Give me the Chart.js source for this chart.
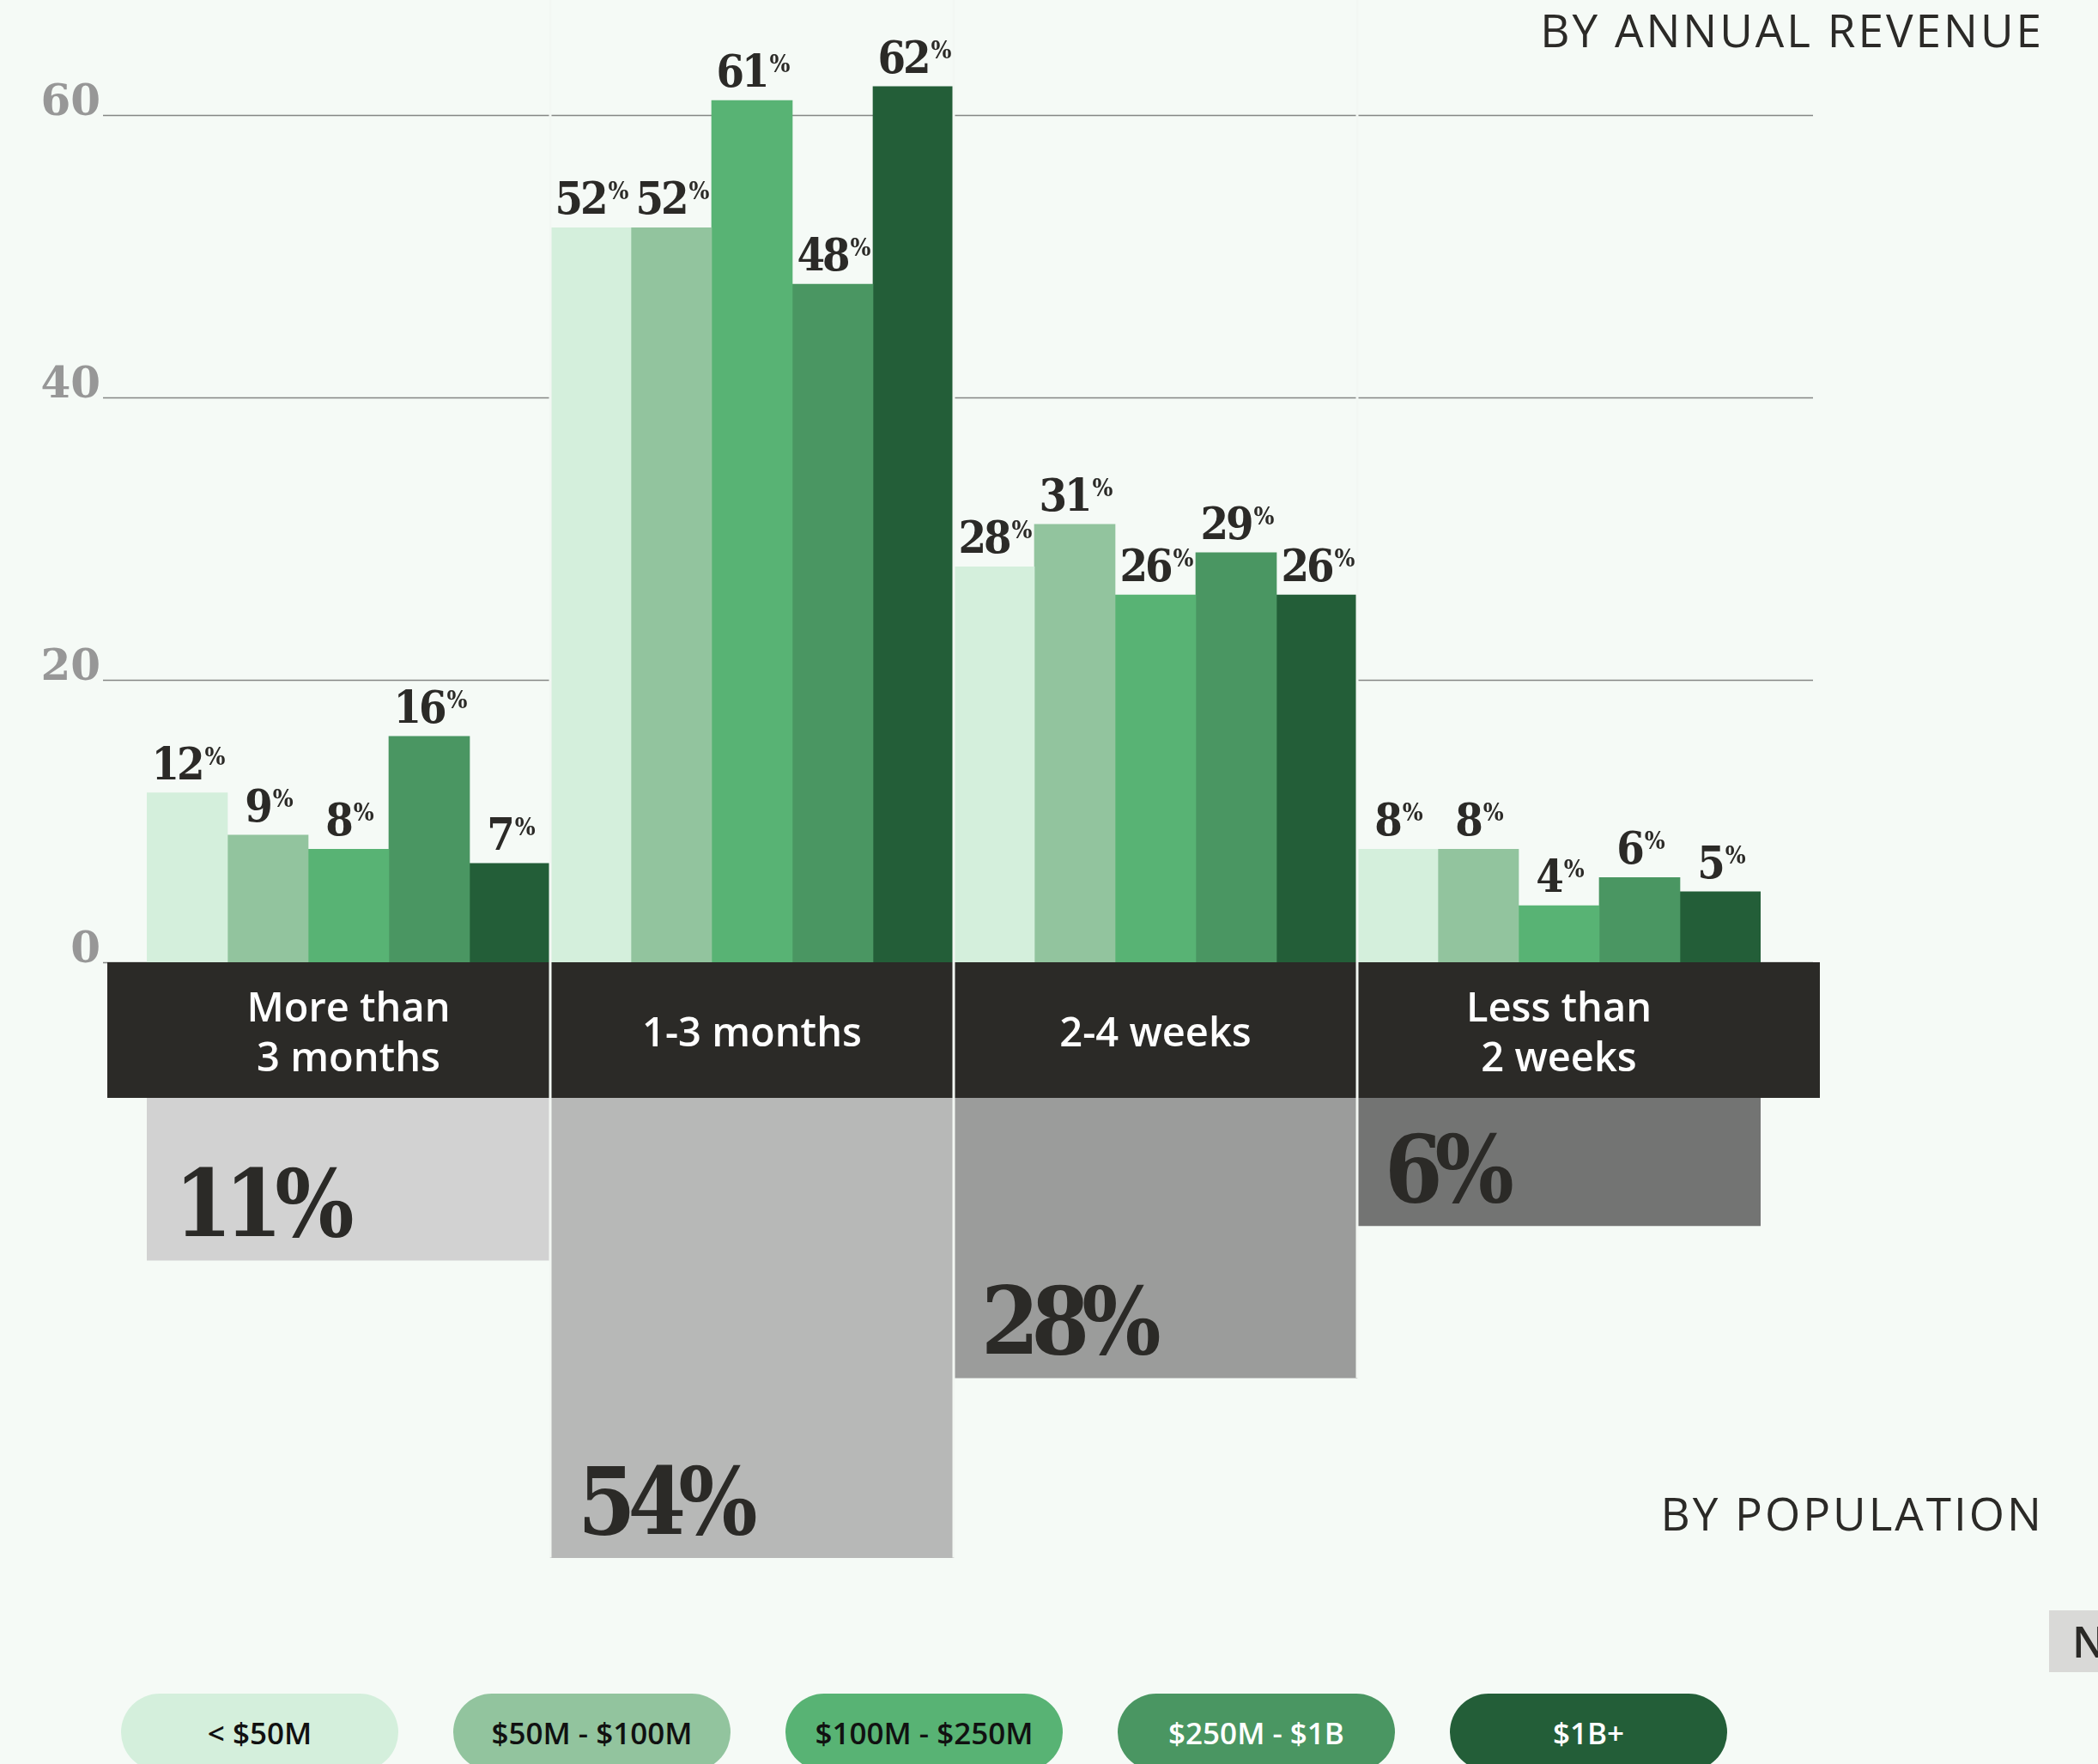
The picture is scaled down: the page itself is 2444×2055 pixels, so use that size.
<!DOCTYPE html>
<html>
<head>
<meta charset="utf-8">
<title>Planning horizon by annual revenue</title>
<script src="https://cdn.jsdelivr.net/npm/chart.js@4.4.1/dist/chart.umd.min.js"></script>
<style>
body {
    margin: 0;
    background: #f5faf6;
    width: 2444px;
    height: 2055px;
    overflow: hidden;
    position: relative;
    font-family: "Open Sans", sans-serif;
    color: #2b2a27;
}
canvas { position: absolute; left: 0; }
#revenueChart { top: 0; }
#populationChart { top: 1279px; }
.heading {
    position: absolute;
    right: 63px;
    font-size: 53px;
    font-weight: 500;
    line-height: 53px;
    letter-spacing: 3px;
    z-index: 2;
}
#revenueHeading { top: 8px; }
#populationHeading { top: 1736px; }
.pill {
    position: absolute;
    top: 1973px;
    width: 323px;
    height: 90px;
    border-radius: 45px;
    display: flex;
    align-items: center;
    justify-content: center;
    font-size: 35px;
    font-weight: 600;
}
#note {
    position: absolute;
    left: 2387px;
    top: 1876px;
    width: 80px;
    height: 72px;
    background: #d9d9d7;
    font-size: 50px;
    font-weight: 600;
    line-height: 72px;
    padding-left: 27px;
    box-sizing: border-box;
}
</style>
</head>
<body>
<div class="heading" id="revenueHeading">BY ANNUAL REVENUE</div>
<canvas id="revenueChart" width="2444" height="1279"></canvas>
<canvas id="populationChart" width="2444" height="600"></canvas>
<div class="heading" id="populationHeading">BY POPULATION</div>
<div id="legend"></div>
<div id="note">N</div>

<script>
const categories = [['More than', '3 months'], '1-3 months', '2-4 weeks', ['Less than', '2 weeks']];
const revenueBands = ['< $50M', '$50M - $100M', '$100M - $250M', '$250M - $1B', '$1B+'];

// share of respondents per horizon, one array per revenue band
const under50M = [12, 52, 28, 8];
const from50To100M = [9, 52, 31, 8];
const from100To250M = [8, 61, 26, 4];
const from250MTo1B = [16, 48, 29, 6];
const over1B = [7, 62, 26, 5];

// share of the whole population per horizon
const population = [11, 54, 28, 6];

const revenueSeries = [under50M, from50To100M, from100To250M, from250MTo1B, over1B];
const bandColors = ['#d4efdc', '#92c49e', '#58b374', '#4a9662', '#235e38'];
const bandTextColors = ['#111', '#111', '#111', '#fff', '#fff'];
const populationColors = ['#d2d2d2', '#b7b8b7', '#9b9c9b', '#737473'];

const INK = '#2b2a27';
const DIVIDER = '#f3f7f3';
const SERIF = '"DejaVu Serif Condensed", "DejaVu Serif", serif';
// population bars hang from this value so the small shares stay readable
const POP_BASE = -12.5;

function dividerXs(chart) {
    const x = chart.scales.x;
    const xs = [];
    for (let i = 0; i < chart.data.labels.length - 1; i++) {
        xs.push((x.getPixelForValue(i) + x.getPixelForValue(i + 1)) / 2);
    }
    return xs;
}

function setFont(ctx, size, spacing) {
    ctx.font = 'bold ' + size + 'px ' + SERIF;
    ctx.fontStretch = 'condensed';
    ctx.letterSpacing = spacing + 'px';
}

const revenueDecor = {
    id: 'revenueDecor',
    beforeDraw(chart) {
        const ctx = chart.ctx, y = chart.scales.y, x = chart.scales.x, area = chart.chartArea;
        ctx.save();
        ctx.strokeStyle = '#858685';
        ctx.lineWidth = 1.5;
        y.ticks.forEach(t => {
            const py = Math.round(y.getPixelForValue(t.value)) + 0.5;
            ctx.beginPath();
            ctx.moveTo(area.left - 51, py);
            ctx.lineTo(area.right + 61, py);
            ctx.stroke();
        });
        // dark band under the category labels
        ctx.fillStyle = INK;
        ctx.fillRect(area.left - 46, x.top, area.right - area.left + 115, x.bottom - x.top);
        ctx.restore();
    },
    afterDatasetsDraw(chart) {
        const ctx = chart.ctx;
        ctx.save();
        ctx.fillStyle = DIVIDER;
        dividerXs(chart).forEach(px => ctx.fillRect(px - 1.5, 0, 3, chart.height));

        ctx.fillStyle = INK;
        ctx.textAlign = 'left';
        ctx.textBaseline = 'alphabetic';
        chart.data.datasets.forEach((ds, d) => {
            chart.getDatasetMeta(d).data.forEach((bar, i) => {
                const num = String(ds.data[i]);
                setFont(ctx, 52, -3);
                const wNum = ctx.measureText(num).width;
                setFont(ctx, 28, 0);
                const wPct = ctx.measureText('%').width;
                const left = bar.x - (wNum + wPct) / 2;
                const base = bar.y - 16;
                setFont(ctx, 52, -3);
                ctx.fillText(num, left, base);
                setFont(ctx, 28, 0);
                ctx.fillText('%', left + wNum + 3, base - 17);
            });
        });
        ctx.restore();
    }
};

const populationDecor = {
    id: 'populationDecor',
    afterDatasetsDraw(chart) {
        const ctx = chart.ctx;
        const bars = chart.getDatasetMeta(0).data;
        ctx.save();
        ctx.fillStyle = DIVIDER;
        dividerXs(chart).forEach((px, i) => {
            const bottom = Math.max(bars[i].y, bars[i + 1].y);
            ctx.fillRect(px - 1.5, 0, 3, bottom);
        });

        ctx.fillStyle = INK;
        setFont(ctx, 108, -9);
        ctx.textAlign = 'left';
        ctx.textBaseline = 'alphabetic';
        bars.forEach((bar, i) => {
            ctx.fillText(population[i] + '%', bar.x - bar.width / 2 + 32, bar.y - 28);
        });
        ctx.restore();
    }
};

new Chart(document.getElementById('revenueChart'), {
    type: 'bar',
    data: {
        labels: categories,
        datasets: revenueSeries.map((data, i) => ({
            label: revenueBands[i],
            data: data,
            backgroundColor: bandColors[i],
            borderWidth: 0,
            categoryPercentage: 1,
            barPercentage: 1
        }))
    },
    options: {
        responsive: false,
        animation: false,
        layout: { padding: { top: 2, right: 393 } },
        plugins: { legend: { display: false }, tooltip: { enabled: false } },
        scales: {
            x: {
                grid: { display: false, drawTicks: false },
                border: { display: false },
                ticks: {
                    color: '#ffffff',
                    font: { family: 'Open Sans', size: 47, weight: 600, lineHeight: '58px' },
                    padding: 56,
                    crossAlign: 'center',
                    maxRotation: 0,
                    autoSkip: false
                },
                afterFit(scale) { scale.height = 158; }
            },
            y: {
                min: 0,
                max: 68,
                grid: { display: false, drawTicks: false },
                border: { display: false },
                ticks: {
                    stepSize: 20,
                    includeBounds: false,
                    color: '#979797',
                    font: { family: 'DejaVu Serif', size: 50, weight: 'bold' },
                    padding: 54,
                    labelOffset: -13
                },
                afterFit(scale) {
                    scale.width = 171;
                    scale.paddingTop = 0;
                    scale.paddingBottom = 0;
                }
            }
        }
    },
    plugins: [revenueDecor]
});

new Chart(document.getElementById('populationChart'), {
    type: 'bar',
    data: {
        labels: categories,
        datasets: [{
            label: 'Population',
            data: population,
            backgroundColor: populationColors,
            borderWidth: 0,
            base: POP_BASE,
            categoryPercentage: 1,
            barPercentage: 1
        }]
    },
    options: {
        responsive: false,
        animation: false,
        layout: { padding: { left: 171, right: 393 } },
        plugins: { legend: { display: false }, tooltip: { enabled: false } },
        scales: {
            x: { display: false },
            y: { display: false, reverse: true, min: POP_BASE, max: 62 }
        }
    },
    plugins: [populationDecor]
});

// revenue band key along the bottom
const legend = document.getElementById('legend');
revenueBands.forEach((name, i) => {
    const pill = document.createElement('div');
    pill.className = 'pill';
    pill.style.left = (141 + i * 387) + 'px';
    pill.style.background = bandColors[i];
    pill.style.color = bandTextColors[i];
    pill.textContent = name;
    legend.appendChild(pill);
});
</script>
</body>
</html>
